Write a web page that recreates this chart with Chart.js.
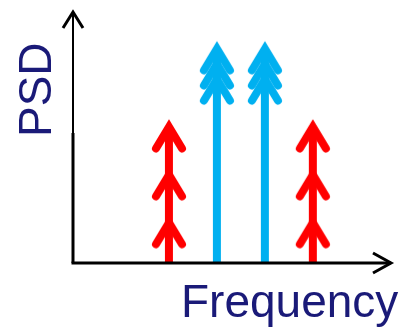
<!DOCTYPE html>
<html lang="en">
<head>
    <meta charset="UTF-8">
    <title>PSD</title>
    <script src="https://cdn.jsdelivr.net/npm/chart.js"></script>
    <style>
        body { margin: 0; background: #fff; }
        canvas { display: block; }
    </style>
</head>
<body>
    <canvas id="psdChart" width="405" height="329"></canvas>

    <script>
        // tone frequencies and arrow heights
        const freqs = [2, 3, 4, 5];
        const powers = [5.4, 8.5, 8.5, 5.4];
        const toneColors = ['#ff0000', '#00b0f0', '#00b0f0', '#ff0000'];
        // chevron levels along each arrow
        const redHeads = [5.4, 3.5, 1.6];
        const blueHeads = [8.5, 7.9, 7.3];
        const xLabel = 'Frequency';
        const yLabel = 'PSD';

        // chevron image, vertex at centre
        function chevron(color) {
            const c = document.createElement('canvas');
            c.width = 50;
            c.height = 70;
            const g = c.getContext('2d');
            g.strokeStyle = color;
            g.lineWidth = 8;
            g.lineCap = 'round';
            g.lineJoin = 'miter';
            g.beginPath();
            g.moveTo(12, 56.5);
            g.lineTo(25, 35);
            g.lineTo(38, 56.5);
            g.stroke();
            return c;
        }

        const datasets = [];
        freqs.forEach((f, i) => {
            datasets.push({
                type: 'line',
                data: [{ x: f, y: 0 }, { x: f, y: powers[i] }],
                borderColor: toneColors[i],
                borderWidth: 8,
                borderCapStyle: 'butt',
                pointRadius: 0
            });
            const heads = toneColors[i] === '#ff0000' ? redHeads : blueHeads;
            datasets.push({
                type: 'scatter',
                data: heads.map(h => ({ x: f, y: h })),
                pointStyle: chevron(toneColors[i]),
                pointRadius: 10
            });
        });

        // axes with arrow tips and the two labels
        const axesPlugin = {
            id: 'axes',
            afterDatasetsDraw(chart) {
                const { ctx, chartArea: a } = chart;
                ctx.save();
                ctx.strokeStyle = '#000';
                ctx.lineCap = 'butt';
                // y axis
                ctx.lineWidth = 2;
                ctx.beginPath();
                ctx.moveTo(a.left, 134);
                ctx.lineTo(a.left, a.top + 1);
                ctx.stroke();
                ctx.lineWidth = 3;
                ctx.beginPath();
                ctx.moveTo(a.left, a.bottom);
                ctx.lineTo(a.left, 133);
                ctx.stroke();
                ctx.beginPath();
                ctx.moveTo(a.left - 10, a.top + 17);
                ctx.lineTo(a.left, a.top + 1);
                ctx.lineTo(a.left + 10, a.top + 17);
                ctx.stroke();
                // x axis
                ctx.beginPath();
                ctx.moveTo(a.left - 1.5, a.bottom);
                ctx.lineTo(a.right - 1, a.bottom);
                ctx.stroke();
                ctx.beginPath();
                ctx.moveTo(a.right - 19, a.bottom - 10);
                ctx.lineTo(a.right - 1, a.bottom);
                ctx.lineTo(a.right - 19, a.bottom + 10);
                ctx.stroke();
                // labels
                ctx.fillStyle = '#1a1a78';
                ctx.font = '46px "Liberation Sans", Arial, sans-serif';
                ctx.textBaseline = 'alphabetic';
                ctx.textAlign = 'left';
                ctx.fillText(xLabel, 181, 317);
                ctx.translate(51, 137);
                ctx.rotate(-Math.PI / 2);
                ctx.fillText(yLabel, 0, 0);
                ctx.restore();
            }
        };

        new Chart(document.getElementById('psdChart'), {
            type: 'scatter',
            data: { datasets: datasets },
            options: {
                responsive: false,
                animation: false,
                layout: { padding: { left: 73, top: 8, right: 13, bottom: 66 } },
                plugins: { legend: { display: false }, tooltip: { enabled: false } },
                scales: {
                    x: { type: 'linear', min: 0, max: 6.65, display: false },
                    y: { type: 'linear', min: 0, max: 10, display: false }
                }
            },
            plugins: [axesPlugin]
        });
    </script>
</body>
</html>
